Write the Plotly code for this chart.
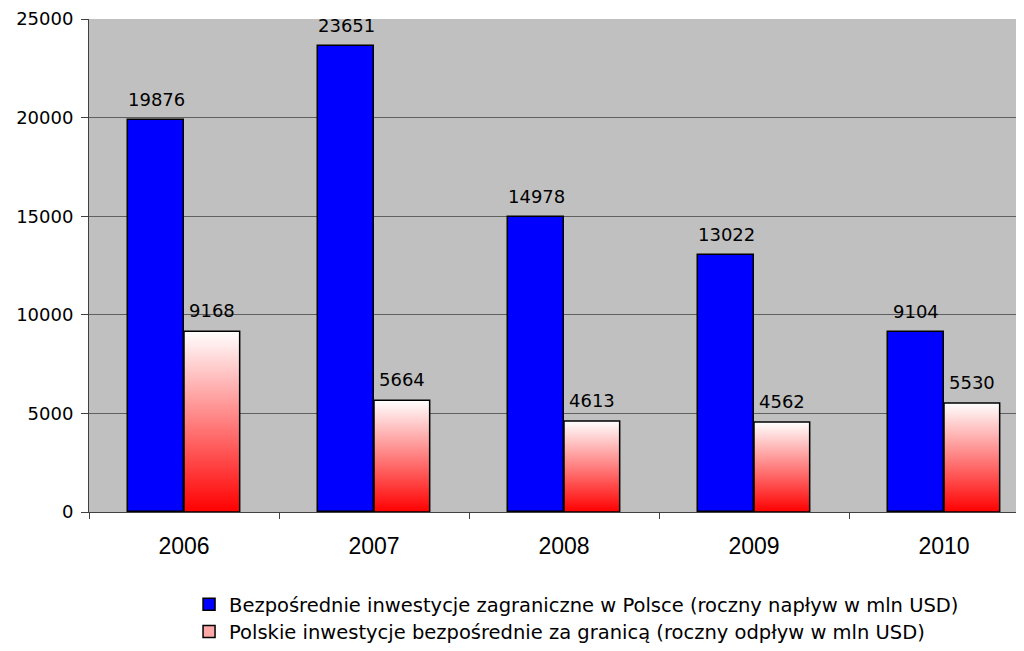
import plotly.graph_objects as go

years = ["2006", "2007", "2008", "2009", "2010"]
inflow = [19876, 23651, 14978, 13022, 9104]
outflow = [9168, 5664, 4613, 4562, 5530]
name_in = "Bezpośrednie inwestycje zagraniczne w Polsce (roczny napływ w mln USD)"
name_out = "Polskie inwestycje bezpośrednie za granicą (roczny odpływ w mln USD)"

W = 0.293
pos = list(range(len(years)))

fig = go.Figure()
fig.add_trace(go.Bar(
    x=[p - W / 2 for p in pos], y=inflow, width=W,
    marker=dict(color="#0000ff", line=dict(color="black", width=1.5)),
    name=name_in, legend="legend", showlegend=True,
))
for i, (p, v) in enumerate(zip(pos, outflow)):
    fig.add_trace(go.Scatter(
        x=[p, p, p + W, p + W, p], y=[0, v, v, 0, 0],
        mode="lines", fill="toself",
        line=dict(color="black", width=1.5),
        fillgradient=dict(type="vertical", colorscale=[[0, "#ff0000"], [1, "#ffffff"]]),
        name=name_out, showlegend=False, hoverinfo="skip",
    ))
# legend entry for the gradient series
fig.add_trace(go.Bar(
    x=[None], y=[None],
    marker=dict(color="#ffa8a8", line=dict(color="black", width=1.5)),
    name=name_out, legend="legend2", showlegend=True,
))

lab_font = dict(family="DejaVu Sans", size=18, color="black")
for p, v in zip(pos, inflow):
    fig.add_annotation(x=p - W / 2, y=v, text=str(v), showarrow=False,
                       yanchor="bottom", yshift=8, font=lab_font)
for p, v in zip(pos, outflow):
    fig.add_annotation(x=p + W / 2, y=v, text=str(v), showarrow=False,
                       yanchor="bottom", yshift=8, font=lab_font)

leg_font = dict(family="DejaVu Sans", size=19.5, color="black")
fig.update_layout(
    width=1024, height=651,
    margin=dict(l=81, r=8, t=11, b=144),
    paper_bgcolor="white", plot_bgcolor="#c0c0c0",
    bargap=0,
    legend=dict(x=0.107, y=-0.188, xanchor="left", yanchor="middle",
                font=leg_font, bgcolor="rgba(0,0,0,0)", itemwidth=30),
    legend2=dict(x=0.107, y=-0.243, xanchor="left", yanchor="middle",
                 font=leg_font, bgcolor="rgba(0,0,0,0)", itemwidth=30),
)
fig.update_xaxes(
    range=[-0.5, -0.5 + 935 / 190], tickmode="array", tickvals=pos, ticktext=years,
    ticks="", showgrid=False, zeroline=False, automargin=False,
    showline=True, linecolor="#404040", linewidth=1,
    tickfont=dict(family="Liberation Sans", size=23, color="black"),
    ticklabelstandoff=13,
    minor=dict(tick0=-0.5, dtick=1, ticks="outside", ticklen=6, tickcolor="#404040",
               showgrid=False),
)
fig.update_yaxes(
    range=[0, 25000], dtick=5000, tick0=0, tickformat="d",
    ticks="outside", ticklen=7, tickcolor="#404040", automargin=False,
    showline=True, linecolor="#404040", linewidth=1,
    showgrid=True, gridcolor="#606060", gridwidth=1, zeroline=False,
    tickfont=dict(family="DejaVu Sans", size=18, color="black"),
    ticklabelstandoff=4,
)
fig.write_html("out.html")
